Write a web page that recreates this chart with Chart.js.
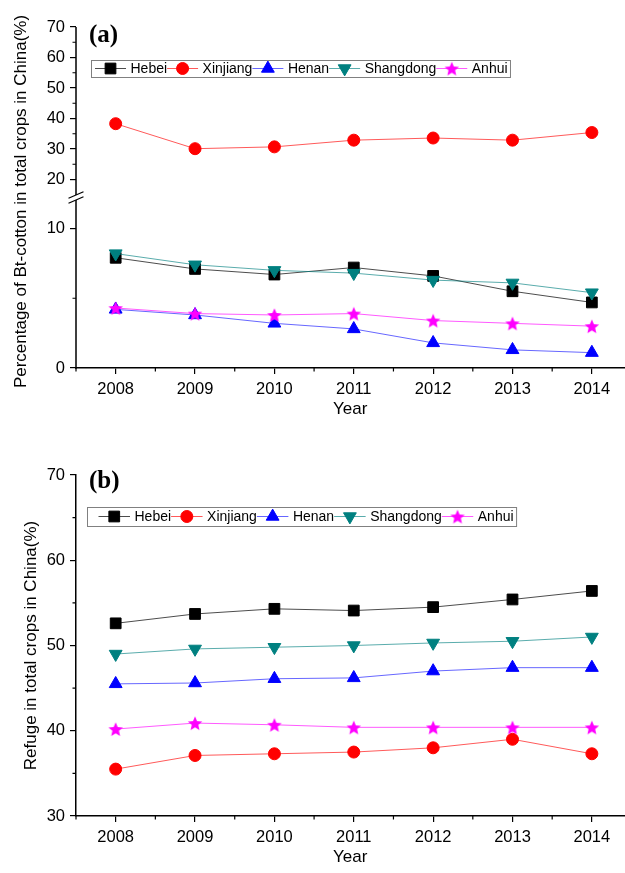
<!DOCTYPE html>
<html>

<head>
  <title>Bt-cotton and refuge</title>
  <script src="https://cdn.jsdelivr.net/npm/chart.js@4/dist/chart.umd.min.js"></script>
  <style>
    body { margin: 0; background: #fff; overflow: hidden; }
    .panel { position: absolute; left: 0; width: 625px; overflow: hidden; }
    .inner { position: relative; width: 633px; height: 100%; }
  </style>
</head>

<body>
  <div class="panel" style="top: 0; height: 440px"><div class="inner"><canvas id="chartA"></canvas></div></div>
  <div class="panel" style="top: 440px; height: 433px"><div class="inner"><canvas id="chartB"></canvas></div></div>
  <script>
    var years = [2008, 2009, 2010, 2011, 2012, 2013, 2014];
    var provinces = ['Hebei', 'Xinjiang', 'Henan', 'Shangdong', 'Anhui'];

    // (a) percentage of Bt-cotton in total crops
    var btHebei = [7.9, 7.1, 6.7, 7.2, 6.6, 5.5, 4.7];
    var btXinjiang = [38.3, 30.1, 30.7, 32.9, 33.6, 32.9, 35.4];
    var btHenan = [4.2, 3.8, 3.2, 2.8, 1.8, 1.3, 1.1];
    var btShangdong = [8.2, 7.4, 7.0, 6.8, 6.3, 6.1, 5.4];
    var btAnhui = [4.3, 3.9, 3.8, 3.9, 3.4, 3.2, 3.0];

    // (b) refuge in total crops
    var refHebei = [52.6, 53.7, 54.3, 54.1, 54.5, 55.4, 56.4];
    var refXinjiang = [35.5, 37.1, 37.3, 37.5, 38.0, 39.0, 37.3];
    var refHenan = [45.5, 45.6, 46.1, 46.2, 47.0, 47.4, 47.4];
    var refShangdong = [49.0, 49.6, 49.8, 50.0, 50.3, 50.5, 51.0];
    var refAnhui = [40.2, 40.9, 40.7, 40.4, 40.4, 40.4, 40.4];

    var ticksATop = [20, 30, 40, 50, 60, 70];
    var ticksABottom = [0, 10];
    var ticksB = [30, 40, 50, 60, 70];

    Chart.defaults.font.family = '"Liberation Sans", Arial, sans-serif';
    Chart.defaults.color = '#000';

    function makeStar(r, color) {
      var c = document.createElement('canvas');
      var s = Math.ceil(r * 2) + 2;
      c.width = s;
      c.height = s;
      var g = c.getContext('2d');
      g.fillStyle = color;
      g.beginPath();
      for (var i = 0; i < 10; i++) {
        var rr = i % 2 ? r * 0.45 : r;
        var a = -Math.PI / 2 + i * Math.PI / 5;
        var px = s / 2 + rr * Math.cos(a), py = s / 2 + rr * Math.sin(a) + 0.8;
        if (i) g.lineTo(px, py); else g.moveTo(px, py);
      }
      g.closePath();
      g.fill();
      return c;
    }

    var styles = [
      { color: '#000000', line: 'rgba(0,0,0,0.7)', point: 'rect', radius: 7.6, rotation: 0 },
      { color: '#ff0000', line: 'rgba(255,0,0,0.65)', point: 'circle', radius: 6, rotation: 0 },
      { color: '#0000ff', line: 'rgba(0,0,255,0.6)', point: 'triangle', radius: 7.4, rotation: 0 },
      { color: '#008080', line: 'rgba(0,128,128,0.65)', point: 'triangle', radius: 7.4, rotation: 180 },
      { color: '#ff00ff', line: 'rgba(255,0,255,0.65)', point: makeStar(7.6, '#ff00ff'), radius: 7, rotation: 0 }
    ];

    function makeSets(series, axes) {
      return series.map(function (vals, i) {
        var st = styles[i];
        var ds = {
          label: provinces[i],
          data: vals.map(function (v, j) { return { x: years[j], y: v }; }),
          borderColor: st.line,
          borderWidth: 1,
          pointStyle: st.point,
          pointRadius: st.radius,
          pointRotation: st.rotation,
          pointBackgroundColor: st.color,
          pointBorderColor: st.color,
          pointBorderWidth: 1,
          tension: 0,
          order: series.length - i
        };
        if (axes) ds.yAxisID = axes[i];
        return ds;
      });
    }

    function xAxis(height, titlePad) {
      return {
        type: 'linear',
        min: 2007.5,
        max: 2014.41,
        afterBuildTicks: function (s) { s.ticks = years.map(function (v) { return { value: v }; }); },
        afterFit: function (s) { s.height = height; },
        ticks: { font: { size: 16.5 }, padding: 6, autoSkip: false, maxRotation: 0, callback: function (v) { return String(v); } },
        grid: { display: true, drawOnChartArea: false, drawTicks: true, tickLength: 6, color: '#000', lineWidth: 1.2 },
        border: { display: true, color: '#000', width: 1.5 },
        title: { display: true, text: 'Year', font: { size: 17 }, padding: { top: 0, bottom: titlePad } }
      };
    }

    function yAxis(min, max, tickList, extra) {
      var axis = {
        type: 'linear',
        position: 'left',
        min: min,
        max: max,
        afterBuildTicks: function (s) { s.ticks = tickList.map(function (v) { return { value: v }; }); },
        afterFit: function (s) { s.width = 76; },
        ticks: { font: { size: 16.5 }, padding: 5, autoSkip: false },
        grid: { display: true, drawOnChartArea: false, drawTicks: true, tickLength: 6, color: '#000', lineWidth: 1.2 },
        border: { display: true, color: '#000', width: 1.5 }
      };
      for (var k in extra) axis[k] = extra[k];
      return axis;
    }

    function midpoints(list) {
      var out = [];
      for (var i = 1; i < list.length; i++) out.push((list[i - 1] + list[i]) / 2);
      return out;
    }

    function drawLegend(chart, lg) {
      var ctx = chart.ctx;
      ctx.save();
      ctx.font = lg.font + 'px "Liberation Sans", Arial, sans-serif';
      ctx.textBaseline = 'middle';
      ctx.textAlign = 'left';
      var cy = lg.y + lg.h / 2;
      var x = lg.x + lg.padL;
      chart.data.datasets.forEach(function (ds, i) {
        var st = styles[i];
        ctx.strokeStyle = st.line;
        ctx.lineWidth = 1;
        ctx.beginPath();
        ctx.moveTo(x, cy);
        ctx.lineTo(x + lg.seg, cy);
        ctx.stroke();
        ctx.fillStyle = st.color;
        ctx.strokeStyle = st.color;
        Chart.helpers.drawPoint(ctx, { pointStyle: st.point, rotation: st.rotation, radius: st.radius, borderWidth: 1 }, x + lg.seg / 2, cy);
        x += lg.seg + lg.gap;
        ctx.fillStyle = '#000';
        ctx.fillText(ds.label, x, cy + 0.5);
        x += ctx.measureText(ds.label).width;
      });
      ctx.strokeStyle = '#808080';
      ctx.lineWidth = 1;
      ctx.strokeRect(lg.x + 0.5, lg.y + 0.5, x + lg.padR - lg.x, lg.h);
      ctx.restore();
    }

    function framePlugin(cfg) {
      return {
        id: 'frame',
        afterDraw: function (chart) {
          var ctx = chart.ctx, area = chart.chartArea;
          ctx.save();
          ctx.strokeStyle = '#000';
          ctx.lineWidth = 1.2;
          ctx.beginPath();
          // minor ticks, x
          var xs = chart.scales.x;
          [years[0] - 0.5].concat(midpoints(years)).forEach(function (v) {
            var px = xs.getPixelForValue(v);
            ctx.moveTo(px, area.bottom);
            ctx.lineTo(px, area.bottom + 3.5);
          });
          // minor ticks, y
          cfg.yMinor.forEach(function (m) {
            var sc = chart.scales[m.id];
            midpoints(m.ticks).forEach(function (v) {
              var py = sc.getPixelForValue(v);
              ctx.moveTo(area.left - 3.5, py);
              ctx.lineTo(area.left, py);
            });
          });
          ctx.stroke();

          if (cfg.broken) {
            var b = chart.scales.yTop.bottom;
            var L = area.left;
            ctx.lineWidth = 1.5;
            ctx.beginPath();
            ctx.moveTo(L, area.top);
            ctx.lineTo(L, b - 2.5);
            ctx.moveTo(L, b + 2.5);
            ctx.lineTo(L, area.bottom + 0.75);
            ctx.stroke();
            ctx.lineWidth = 1.2;
            ctx.beginPath();
            ctx.moveTo(L - 7.5, b + 0.8);
            ctx.lineTo(L + 7.5, b - 5.8);
            ctx.moveTo(L - 7.5, b + 5.8);
            ctx.lineTo(L + 7.5, b - 0.8);
            ctx.stroke();
          }

          if (cfg.yTitle) {
            ctx.save();
            ctx.translate(cfg.yTitle.x, (area.top + area.bottom) / 2 + cfg.yTitle.dy);
            ctx.rotate(-Math.PI / 2);
            ctx.font = '17px "Liberation Sans", Arial, sans-serif';
            ctx.fillStyle = '#000';
            ctx.textAlign = 'center';
            ctx.textBaseline = 'middle';
            ctx.fillText(cfg.yTitle.text, 0, 0);
            ctx.restore();
          }

          ctx.font = 'bold 25px "Liberation Serif", "Times New Roman", serif';
          ctx.fillStyle = '#000';
          ctx.textBaseline = 'alphabetic';
          ctx.textAlign = 'left';
          ctx.fillText(cfg.tag.text, cfg.tag.x, cfg.tag.y);
          ctx.restore();

          drawLegend(chart, cfg.legend);
        }
      };
    }

    var baseOptions = function (padTop, scales) {
      return {
        responsive: true,
        maintainAspectRatio: false,
        animation: false,
        events: [],
        layout: { padding: { top: padTop, left: 0, right: 0, bottom: 0 } },
        plugins: { legend: { display: false }, tooltip: { enabled: false } },
        scales: scales
      };
    };

    var cfgA = {
      broken: true,
      yMinor: [{ id: 'yTop', ticks: ticksATop }, { id: 'yBot', ticks: ticksABottom }],
      yTitle: { text: 'Percentage of Bt-cotton in total crops in China(%)', x: 21, dy: 4 },
      tag: { text: '(a)', x: 89, y: 42 },
      legend: { x: 91, y: 60, h: 17, padL: 4, padR: 2.4, seg: 31, gap: 4.5, font: 14 }
    };

    new Chart(document.getElementById('chartA'), {
      type: 'line',
      data: {
        datasets: makeSets([btHebei, btXinjiang, btHenan, btShangdong, btAnhui],
          ['yBot', 'yTop', 'yBot', 'yBot', 'yBot'])
      },
      options: baseOptions(27, {
        x: xAxis(72, 20.8),
        yTop: yAxis(14.1, 70, ticksATop, { stack: 'a', stackWeight: 1, weight: 2, border: { display: false } }),
        yBot: yAxis(0, 12.22, ticksABottom, { stack: 'a', stackWeight: 1, weight: 1, border: { display: false } })
      }),
      plugins: [framePlugin(cfgA)]
    });

    var cfgB = {
      broken: false,
      yMinor: [{ id: 'y', ticks: ticksB }],
      yTitle: null,
      tag: { text: '(b)', x: 89, y: 48 },
      legend: { x: 87, y: 67, h: 19, padL: 11.5, padR: 2.5, seg: 31.5, gap: 4.5, font: 14 }
    };

    new Chart(document.getElementById('chartB'), {
      type: 'line',
      data: {
        datasets: makeSets([refHebei, refXinjiang, refHenan, refShangdong, refAnhui])
      },
      options: baseOptions(35, {
        x: xAxis(57, 5.8),
        y: yAxis(30, 70, ticksB, {
          title: { display: true, text: 'Refuge in total crops in China(%)', font: { size: 17 }, padding: { top: 20.8, bottom: 0 } }
        })
      }),
      plugins: [framePlugin(cfgB)]
    });
  </script>
</body>

</html>
